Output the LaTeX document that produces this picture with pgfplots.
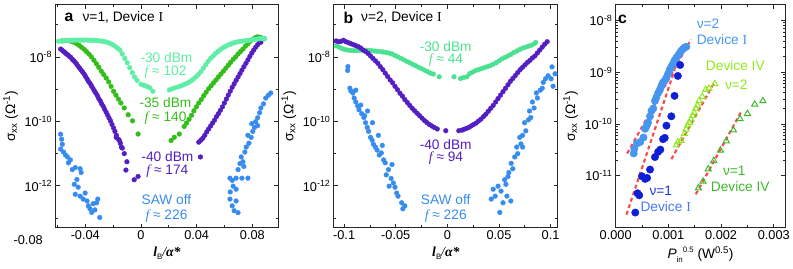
\documentclass[border=0pt]{standalone}
\usepackage{pgfplots}
\pgfplotsset{compat=1.18}
\usepackage{fontspec}
\setmainfont{Liberation Sans}
\newfontfamily\serif{Liberation Serif}
\definecolor{mintA}{RGB}{95,238,165}
\definecolor{mintB}{RGB}{75,225,145}
\definecolor{grnA}{RGB}{50,190,25}
\definecolor{purp}{RGB}{85,30,195}
\definecolor{sawblue}{RGB}{55,140,240}
\definecolor{cblue}{RGB}{70,150,240}
\definecolor{cdark}{RGB}{15,30,215}
\definecolor{cdevI}{RGB}{75,120,240}
\definecolor{lime}{RGB}{140,235,30}
\definecolor{cgreen}{RGB}{60,185,40}
\definecolor{cred}{RGB}{250,75,75}
\newcommand{\fs}{\fontsize{13}{15}\selectfont}
\newcommand{\fa}{\fontsize{14}{16}\selectfont}
\newcommand{\ff}{{\serif\itshape f}}
\pgfplotsset{
  every axis/.append style={
    scale only axis, ymode=log, tick align=inside, scaled x ticks=false,
    axis line style={line width=1pt, black!85},
    every tick/.style={black!85, line width=0.8pt},
    major tick length=4pt, minor tick length=2.5pt,
    tick label style={font=\fs},
    label style={font=\fa},
  },
  dotA/.style={only marks, mark=*, mark size=2.4pt},
}
\begin{document}
\begin{tikzpicture}
\path (0pt,0pt) rectangle (793pt,274pt);
% ---------------- panel a
\begin{axis}[at={(44pt,42pt)}, anchor=south west, width=227pt, height=227pt,
  xmin=-0.0613, xmax=0.0986, ymin=5.1e-14, ymax=4.1e-7,
  xtick={-0.04,0,0.04,0.08}, xticklabels={-0.04,0,0.04,0.08},
  minor xtick={-0.06,-0.02,0.02,0.06},
  ytick={1e-12,1e-10,1e-8}, yticklabels={10\textsuperscript{-12},10\textsuperscript{-10},10\textsuperscript{-8}},
  minor ytick={1e-13,1e-11,1e-9,1e-7},
  ylabel={σ\textsubscript{xx} (Ω\textsuperscript{-1})},
  xlabel={{\serif\bfseries\itshape l}\raisebox{-0.4ex}{\fontsize{8}{9}\selectfont B}{\serif\itshape /}{\serif\bfseries\itshape α*}},
]
\addplot[dotA, color=sawblue] coordinates {
(-0.0577,4.0e-11) (-0.0570,2.8e-11) (-0.0565,1.95e-11) (-0.0577,1.38e-11) (-0.0556,1.12e-11) (-0.0542,9.1e-12) (-0.0528,7.9e-12) (-0.0507,6.4e-12) (-0.0521,5.2e-12) (-0.0493,3.2e-12) (-0.0472,3.7e-12) (-0.0437,3.4e-12) (-0.0430,2.6e-12) (-0.0460,1.58e-12) (-0.0479,1.12e-12) (-0.0451,9.1e-13) (-0.0472,5.5e-13) (-0.0437,4.8e-13) (-0.0401,6.0e-13) (-0.0415,3.9e-13) (-0.0378,2.4e-13) (-0.0366,1.95e-13) (-0.0343,2.8e-13) (-0.0319,3.0e-13) (-0.0354,1.5e-13) (-0.0331,1.8e-13) (-0.0310,3.9e-13) (-0.0296,1.05e-13) (-0.0387,3.4e-13)
(0.0639,3.9e-13) (0.0655,2.4e-13) (0.0669,1.7e-13) (0.0683,3.4e-13) (0.0697,1.48e-13) (0.0641,6.5e-13) (0.0662,9.8e-13) (0.0683,7.9e-13) (0.0655,1.48e-12) (0.0639,1.74e-12) (0.0683,1.74e-12) (0.0725,1.74e-12) (0.0768,1.74e-12) (0.0697,3.2e-12) (0.0711,4.9e-12) (0.0732,5.6e-12) (0.0720,7.9e-12) (0.0746,1.12e-11) (0.0756,1.6e-11) (0.0775,2.1e-11) (0.0791,3.2e-11) (0.0768,3.7e-11) (0.0803,4.9e-11) (0.0815,6.5e-11) (0.0796,8.5e-11) (0.0824,9.8e-11) (0.0838,1.3e-10) (0.0852,1.86e-10) (0.0861,2.6e-10) (0.0880,3.5e-10) (0.0896,5.3e-10) (0.0915,6.5e-10) (0.0932,7.6e-10) (0.0838,7.4e-11) (0.0739,4.0e-12)
};
\addplot[dotA, color=purp] coordinates {
(-0.0577,1.75e-8) (-0.0567,1.63e-8) (-0.0556,1.47e-8) (-0.0546,1.37e-8) (-0.0535,1.23e-8) (-0.0525,1.15e-8) (-0.0514,1.03e-8) (-0.0504,9.66e-9) (-0.0493,8.4e-9) (-0.0482,7.55e-9) (-0.0472,6.8e-9) (-0.0461,5.9e-9) (-0.0451,5.1e-9) (-0.0440,4.47e-9) (-0.0430,3.9e-9) (-0.0419,3.38e-9) (-0.0408,2.94e-9) (-0.0398,2.47e-9) (-0.0387,2.07e-9) (-0.0377,1.74e-9) (-0.0366,1.51e-9) (-0.0356,1.27e-9) (-0.0345,1.06e-9) (-0.0335,8.9e-10) (-0.0324,7.5e-10) (-0.0313,6.3e-10) (-0.0303,5.1e-10) (-0.0292,4.29e-10) (-0.0282,3.48e-10) (-0.0271,2.92e-10) (-0.0261,2.37e-10) (-0.0250,1.92e-10) (-0.0239,1.55e-10) (-0.0229,1.26e-10) (-0.0218,1.02e-10) (-0.0208,8.0e-11) (-0.0197,6.25e-11) (-0.0187,4.9e-11) (-0.0176,3.7e-11) (-0.0178,3.2e-11) (-0.0162,2.8e-11) (-0.0155,2.55e-11) (-0.0148,2.11e-11) (-0.0141,1.6e-11) (-0.0134,1.49e-11) (-0.0120,1.0e-11) (-0.0101,5.6e-12) (-0.0108,3.1e-12) (-0.0049,1.55e-12) (-0.0021,1.96e-12)
(0.0427,7.9e-12) (0.0415,2.27e-11) (0.0430,2.61e-11) (0.0444,3.0e-11) (0.0458,3.7e-11) (0.0472,4.73e-11) (0.0486,5.83e-11) (0.0500,7.2e-11) (0.0514,8.9e-11) (0.0528,1.09e-10) (0.0542,1.40e-10) (0.0556,1.73e-10) (0.0570,2.2e-10) (0.0585,2.82e-10) (0.0599,3.72e-10) (0.0613,4.93e-10) (0.0627,6.53e-10) (0.0641,8.63e-10) (0.0655,1.14e-9) (0.0669,1.46e-9) (0.0683,1.87e-9) (0.0697,2.38e-9) (0.0711,3.04e-9) (0.0725,3.89e-9) (0.0739,4.97e-9) (0.0754,6.34e-9) (0.0768,8.1e-9) (0.0782,1.04e-8) (0.0796,1.32e-8) (0.0810,1.63e-8) (0.0824,2.01e-8) (0.0838,2.40e-8) (0.0852,2.76e-8) (0.0861,2.86e-8)
};
\addplot[dotA, color=grnA] coordinates {
(-0.0565,3.13e-8) (-0.0549,3.22e-8) (-0.0532,3.22e-8) (-0.0514,3.15e-8) (-0.0496,3.02e-8) (-0.0479,2.82e-8) (-0.0461,2.57e-8) (-0.0444,2.28e-8) (-0.0426,1.99e-8) (-0.0408,1.71e-8) (-0.0391,1.45e-8) (-0.0373,1.22e-8) (-0.0356,1.0e-8) (-0.0338,7.83e-9) (-0.0320,6.12e-9) (-0.0303,4.8e-9) (-0.0285,3.62e-9) (-0.0268,2.84e-9) (-0.0250,2.22e-9) (-0.0232,1.68e-9) (-0.0215,1.22e-9) (-0.0197,8.63e-10) (-0.0180,6.53e-10) (-0.0162,4.93e-10) (-0.0144,3.72e-10) (-0.0120,2.62e-10) (-0.0092,1.61e-10) (-0.0061,1.04e-10) (-0.0021,4.06e-11)
(0.0216,2.56e-11) (0.0239,3.22e-11) (0.0275,4.06e-11) (0.0310,6.95e-11) (0.0327,8.87e-11) (0.0345,1.16e-10) (0.0363,1.55e-10) (0.0380,2.13e-10) (0.0398,2.82e-10) (0.0415,3.72e-10) (0.0433,4.76e-10) (0.0451,6.3e-10) (0.0468,8.05e-10) (0.0486,1.03e-9) (0.0504,1.27e-9) (0.0521,1.57e-9) (0.0539,1.93e-9) (0.0556,2.38e-9) (0.0574,2.94e-9) (0.0592,3.62e-9) (0.0609,4.47e-9) (0.0627,5.52e-9) (0.0644,6.81e-9) (0.0662,8.4e-9) (0.0680,1.0e-8) (0.0697,1.23e-8) (0.0715,1.47e-8) (0.0732,1.75e-8) (0.0750,2.16e-8) (0.0768,2.57e-8) (0.0785,3.06e-8) (0.0803,3.52e-8) (0.0820,3.92e-8) (0.0838,4.2e-8) (0.0856,4.06e-8) (0.0873,3.78e-8) (0.0885,3.65e-8)
};
\addplot[dotA, color=mintA] coordinates {
(-0.0592,3.06e-8) (-0.0574,3.13e-8) (-0.0556,3.18e-8) (-0.0539,3.22e-8) (-0.0521,3.24e-8) (-0.0504,3.29e-8) (-0.0486,3.29e-8) (-0.0468,3.31e-8) (-0.0451,3.33e-8) (-0.0433,3.33e-8) (-0.0415,3.33e-8) (-0.0398,3.33e-8) (-0.0380,3.31e-8) (-0.0363,3.29e-8) (-0.0345,3.29e-8) (-0.0327,3.24e-8) (-0.0310,3.2e-8) (-0.0292,3.13e-8) (-0.0275,3.06e-8) (-0.0257,2.96e-8) (-0.0239,2.82e-8) (-0.0222,2.63e-8) (-0.0204,2.40e-8) (-0.0187,2.16e-8) (-0.0169,1.88e-8) (-0.0151,1.63e-8) (-0.0134,1.23e-8) (-0.0116,9.0e-9) (-0.0099,6.58e-9) (-0.0081,4.63e-9) (-0.0063,3.27e-9) (-0.0046,2.38e-9) (-0.0028,1.87e-9) (0.0,1.41e-9) (0.0021,1.32e-9) (0.0042,1.22e-9) (0.0063,1.10e-9) (0.0085,8.63e-10)
(0.0204,9.46e-10) (0.0225,1.03e-9) (0.0246,1.10e-9) (0.0268,1.18e-9) (0.0289,1.27e-9) (0.0306,1.36e-9) (0.0324,1.48e-9) (0.0342,1.62e-9) (0.0359,1.80e-9) (0.0377,2.07e-9) (0.0394,2.38e-9) (0.0412,2.84e-9) (0.0430,3.5e-9) (0.0447,4.47e-9) (0.0465,5.71e-9) (0.0482,7.3e-9) (0.0500,9.0e-9) (0.0518,1.07e-8) (0.0535,1.28e-8) (0.0553,1.47e-8) (0.0570,1.69e-8) (0.0588,1.91e-8) (0.0606,2.11e-8) (0.0623,2.32e-8) (0.0641,2.48e-8) (0.0658,2.67e-8) (0.0676,2.8e-8) (0.0694,2.92e-8) (0.0711,3.02e-8) (0.0729,3.1e-8) (0.0746,3.18e-8) (0.0764,3.24e-8) (0.0782,3.29e-8) (0.0799,3.38e-8) (0.0817,3.48e-8) (0.0835,3.57e-8) (0.0852,3.65e-8) (0.0870,3.70e-8) (0.0887,3.78e-8)
};
\end{axis}
% ---------------- panel b
\begin{axis}[at={(327.7pt,42pt)}, anchor=south west, width=228.3pt, height=227pt,
  xmin=-0.1099, xmax=0.107, ymin=5.1e-14, ymax=4.1e-7,
  xtick={-0.1,-0.05,0,0.05,0.1}, xticklabels={-0.1,-0.05,0,0.05,0.1},
  minor xtick={-0.075,-0.025,0.025,0.075},
  ytick={1e-12,1e-10,1e-8}, yticklabels={10\textsuperscript{-12},10\textsuperscript{-10},10\textsuperscript{-8}},
  minor ytick={1e-13,1e-11,1e-9,1e-7},
  ylabel={σ\textsubscript{xx} (Ω\textsuperscript{-1})},
  xlabel={{\serif\bfseries\itshape l}\raisebox{-0.4ex}{\fontsize{8}{9}\selectfont B}{\serif\itshape /}{\serif\bfseries\itshape α*}},
]
\addplot[dotA, color=sawblue] coordinates {
(-0.0966,3.8e-9) (-0.0963,5.0e-9) (-0.0944,1.07e-9) (-0.0934,8.7e-10) (-0.0915,7.6e-10) (-0.0903,5.3e-10) (-0.0887,4.0e-10) (-0.0868,3.0e-10) (-0.0856,2.3e-10) (-0.0839,3.2e-10) (-0.0830,1.74e-10) (-0.0808,1.32e-10) (-0.0792,9.1e-11) (-0.0776,6.5e-11) (-0.0801,1.5e-10) (-0.0763,4.9e-11) (-0.0744,3.2e-11) (-0.0728,2.6e-11) (-0.0716,1.95e-11) (-0.0697,1.6e-11) (-0.0681,1.29e-11) (-0.0659,9.1e-12) (-0.0640,1.05e-11) (-0.0617,6.4e-12) (-0.0602,5.2e-12) (-0.0570,3.2e-12) (-0.0592,2.2e-12) (-0.0545,1.7e-12) (-0.0523,1.23e-12) (-0.0507,9.1e-13) (-0.0491,6.0e-13) (-0.0478,4.8e-13) (-0.0443,3.0e-13) (-0.0412,2.4e-13) (-0.0431,1.95e-13) (-0.0668,3.7e-11) (-0.0630,1.8e-11) (-0.0725,9.1e-11) (-0.0773,2.1e-10) (-0.0536,4.6e-12) (-0.0564,9.8e-13) (-0.0887,9.3e-10)
(0.0425,3.9e-13) (0.0463,4.8e-13) (0.0508,1.5e-13) (0.0539,3.0e-13) (0.0577,4.8e-13) (0.0615,3.4e-13) (0.0491,9.8e-13) (0.0520,6.9e-13) (0.0555,1.55e-12) (0.0567,1.12e-12) (0.0587,1.95e-12) (0.0618,5.0e-12) (0.0634,3.4e-12) (0.0653,7.9e-12) (0.0682,1.0e-11) (0.0672,1.6e-11) (0.0713,2.0e-11) (0.0701,3.2e-11) (0.0729,3.7e-11) (0.0760,5.1e-11) (0.0748,9.1e-11) (0.0786,1.12e-10) (0.0808,1.32e-10) (0.0796,2.1e-10) (0.0840,2.6e-10) (0.0824,4.0e-10) (0.0872,5.3e-10) (0.0862,7.6e-10) (0.0900,9.3e-10) (0.0919,1.07e-9) (0.0929,1.62e-9) (0.0951,2.1e-9) (0.0976,2.6e-9) (0.1014,4.9e-9) (0.1005,2.1e-9) (0.1024,1.23e-9) (0.1043,3.0e-9) (0.0444,7.9e-13) (0.0596,2.6e-12) (0.0729,1.6e-11)
};
\addplot[dotA, color=mintB] coordinates {
(-0.1077,2.21e-8) (-0.1049,2.01e-8) (-0.1020,1.81e-8) (-0.0992,1.69e-8) (-0.0963,1.63e-8) (-0.0934,1.58e-8) (-0.0906,1.56e-8) (-0.0877,1.58e-8) (-0.0849,1.6e-8) (-0.0820,1.63e-8) (-0.0792,1.63e-8) (-0.0763,1.6e-8) (-0.0735,1.56e-8) (-0.0706,1.52e-8) (-0.0678,1.49e-8) (-0.0649,1.46e-8) (-0.0621,1.42e-8) (-0.0592,1.37e-8) (-0.0564,1.31e-8) (-0.0535,1.23e-8) (-0.0507,1.11e-8) (-0.0478,1.0e-8) (-0.0450,9.0e-9) (-0.0421,8.1e-9) (-0.0393,7.3e-9) (-0.0364,6.58e-9) (-0.0336,5.92e-9) (-0.0307,5.32e-9) (-0.0279,4.8e-9) (-0.0250,4.32e-9) (-0.0221,3.89e-9) (-0.0193,3.5e-9) (-0.0164,3.15e-9) (-0.0136,2.94e-9) (-0.0079,2.42e-9)
(0.0064,2.42e-9) (0.0127,2.14e-9) (0.0159,2.3e-9) (0.0190,2.42e-9) (0.0216,3.04e-9) (0.0244,3.38e-9) (0.0273,3.75e-9) (0.0301,4.03e-9) (0.0330,4.32e-9) (0.0358,4.63e-9) (0.0387,4.97e-9) (0.0415,5.32e-9) (0.0444,5.92e-9) (0.0472,6.58e-9) (0.0501,7.55e-9) (0.0529,8.69e-9) (0.0558,9.66e-9) (0.0586,1.07e-8) (0.0615,1.19e-8) (0.0643,1.37e-8) (0.0672,1.52e-8) (0.0700,1.69e-8) (0.0729,1.88e-8) (0.0758,2.01e-8) (0.0786,2.16e-8) (0.0815,2.32e-8) (0.0843,2.57e-8) (0.0856,2.8e-8)
};
\addplot[dotA, color=purp] coordinates {
(-0.1077,3.13e-8) (-0.1053,2.96e-8) (-0.1029,3.06e-8) (-0.1006,3.29e-8) (-0.0982,2.96e-8) (-0.0958,2.76e-8) (-0.0934,2.57e-8) (-0.0911,2.40e-8) (-0.0887,2.24e-8) (-0.0863,2.08e-8) (-0.0839,1.88e-8) (-0.0816,1.63e-8) (-0.0792,1.47e-8) (-0.0768,1.28e-8) (-0.0744,1.07e-8) (-0.0721,9.0e-9) (-0.0697,7.55e-9) (-0.0673,6.34e-9) (-0.0649,4.97e-9) (-0.0625,4.03e-9) (-0.0602,3.15e-9) (-0.0578,2.47e-9) (-0.0554,1.93e-9) (-0.0530,1.57e-9) (-0.0507,1.22e-9) (-0.0483,9.6e-10) (-0.0459,7.5e-10) (-0.0435,6.08e-10) (-0.0412,4.76e-10) (-0.0388,3.86e-10) (-0.0364,3.13e-10) (-0.0340,2.54e-10) (-0.0317,2.13e-10) (-0.0293,1.79e-10) (-0.0269,1.5e-10) (-0.0245,1.26e-10) (-0.0221,1.06e-10) (-0.0198,9.2e-11) (-0.0174,8.0e-11) (-0.0150,7.2e-11) (-0.0126,6.49e-11) (-0.0098,5.83e-11) (-0.0015,5.14e-11)
(0.0111,5.14e-11) (0.0143,5.36e-11) (0.0159,5.64e-11) (0.0183,6.04e-11) (0.0206,6.49e-11) (0.0230,7.2e-11) (0.0254,8.0e-11) (0.0278,8.87e-11) (0.0301,1.02e-10) (0.0325,1.17e-10) (0.0349,1.40e-10) (0.0373,1.67e-10) (0.0396,2.06e-10) (0.0420,2.54e-10) (0.0444,3.13e-10) (0.0468,4.0e-10) (0.0491,5.1e-10) (0.0515,6.53e-10) (0.0539,8.34e-10) (0.0563,1.06e-9) (0.0587,1.36e-9) (0.0610,1.74e-9) (0.0634,2.14e-9) (0.0658,2.64e-9) (0.0682,3.27e-9) (0.0705,4.03e-9) (0.0729,4.8e-9) (0.0753,5.71e-9) (0.0777,6.81e-9) (0.0800,7.83e-9) (0.0824,9.33e-9) (0.0848,1.07e-8) (0.0872,1.32e-8) (0.0895,1.63e-8) (0.0919,2.01e-8) (0.0943,2.48e-8) (0.0967,2.96e-8)
};
\end{axis}
% ---------------- panel c
\begin{axis}[at={(615pt,42pt)}, anchor=south west, width=173pt, height=227pt,
  xmin=0, xmax=0.00322, ymin=1e-12, ymax=2e-8,
  xtick={0,0.001,0.002,0.003}, xticklabels={0.000,0.001,0.002,0.003},
  minor xtick={0.0005,0.0015,0.0025},
  ytick={1e-11,1e-10,1e-9,1e-8}, yticklabels={10\textsuperscript{-11},10\textsuperscript{-10},10\textsuperscript{-9},10\textsuperscript{-8}},
  ylabel={σ\textsubscript{xx} (Ω\textsuperscript{-1})},
  xlabel={{\itshape P}\raisebox{-0.5ex}{\fontsize{8}{9}\selectfont in}\raisebox{0.9ex}{\fontsize{8}{9}\selectfont 0.5} (W\textsuperscript{0.5})},
]
\addplot[cred, line width=2.2pt, dash pattern=on 4pt off 3pt] coordinates {(0.000218,2.7e-11) (0.001428,4.3e-9)};
\addplot[cred, line width=2.2pt, dash pattern=on 4pt off 3pt] coordinates {(0.000205,1.78e-12) (0.001117,1.1e-9)};
\addplot[cred, line width=2.2pt, dash pattern=on 4pt off 3pt] coordinates {(0.001056,2.1e-11) (0.001862,6.1e-10)};
\addplot[cred, line width=2.2pt, dash pattern=on 4pt off 3pt] coordinates {(0.001521,4.4e-12) (0.002389,1.78e-10)};
\addplot[only marks, mark=*, mark size=3.8pt, color=cblue] coordinates {
(0.000341,2.7e-11) (0.000354,3.3e-11) (0.000404,4.2e-11) (0.000466,4.5e-11) (0.000527,5.5e-11) (0.000559,8.1e-11) (0.000590,9.3e-11) (0.000615,1.07e-10) (0.000652,1.41e-10) (0.000680,1.8e-10) (0.000713,2.0e-10) (0.000745,2.8e-10) (0.000773,3.3e-10) (0.000806,4.0e-10) (0.000838,4.6e-10) (0.000866,5.4e-10) (0.000894,6.3e-10) (0.000931,6.9e-10) (0.000963,7.9e-10) (0.000993,9.3e-10) (0.001024,1.12e-9) (0.001056,1.29e-9) (0.001086,1.45e-9) (0.001117,1.7e-9) (0.001149,1.9e-9) (0.001182,2.1e-9) (0.001210,2.3e-9) (0.001242,2.6e-9) (0.001276,2.8e-9) (0.001304,3.0e-9) (0.001341,3.1e-9)
};
\addplot[only marks, mark=*, mark size=3.8pt, color=cdark] coordinates {
(0.000372,1.95e-12) (0.000415,4.6e-12) (0.000447,4.2e-12) (0.000497,9.8e-12) (0.000559,8.7e-12) (0.000596,9.1e-12) (0.000652,1.32e-11) (0.000745,2.3e-11) (0.000806,2.9e-11) (0.000847,3.2e-11) (0.000899,5.1e-11) (0.000931,5.4e-11) (0.000963,9.3e-11) (0.001056,1.41e-10) (0.001117,3.5e-10) (0.001179,8.5e-10) (0.001223,1.38e-9)
};
\addplot[only marks, mark=triangle, mark size=3.6pt, line width=1pt, color=lime] coordinates {
(0.001149,3.9e-11) (0.001182,4.5e-11) (0.001242,4.8e-11) (0.001304,6.5e-11) (0.001335,7.9e-11) (0.001365,9.5e-11) (0.001397,1.07e-10) (0.001428,1.23e-10) (0.001458,1.45e-10) (0.001490,1.66e-10) (0.001521,2.0e-10) (0.001551,2.3e-10) (0.001583,2.8e-10) (0.001644,3.4e-10) (0.001708,4.6e-10) (0.001769,4.9e-10) (0.001881,6.0e-10)
};
\addplot[only marks, mark=triangle, mark size=3.6pt, line width=1pt, color=cgreen] coordinates {
(0.001570,5.8e-12) (0.001657,7.8e-12) (0.001756,1.35e-11) (0.001862,1.95e-11) (0.001987,3.1e-11) (0.002099,4.7e-11) (0.002235,7.6e-11) (0.002359,1.26e-10) (0.002501,1.58e-10) (0.002639,2.4e-10) (0.002793,2.8e-10)
};
\end{axis}
% ---------------- annotations
\node[font=\fs] at (16pt,29pt) {-0.08};
\node[font=\fontsize{16}{18}\selectfont\bfseries] at (57.5pt,256pt) {a};
\node[font=\fa, anchor=west] at (68pt,256pt) {ν=1, Device {\serif I}};
\begin{scope}[every node/.style={font=\fa, inner sep=0.5pt}]
\node[mintA] at (157pt,215pt) {-30 dBm};
\node[mintA] at (156pt,200.5pt) {\ff{} ≈ 102};
\node[grnA] at (156pt,169pt) {-35 dBm};
\node[grnA] at (156pt,153.5pt) {\ff{} ≈ 140};
\node[purp] at (158pt,114pt) {-40 dBm};
\node[purp] at (158pt,99.5pt) {\ff{} ≈ 174};
\node[sawblue] at (157pt,70pt) {SAW off};
\node[sawblue] at (157pt,54pt) {\ff{} ≈ 226};
\node[mintB] at (441.7pt,226.5pt) {-30 dBm};
\node[mintB] at (442pt,212.5pt) {\ff{} ≈ 44};
\node[purp] at (441.7pt,126.5pt) {-40 dBm};
\node[purp] at (442pt,112.5pt) {\ff{} ≈ 94};
\node[sawblue] at (441.7pt,70pt) {SAW off};
\node[sawblue] at (441.7pt,54pt) {\ff{} ≈ 226};
\node[cblue, anchor=west] at (697pt,250pt) {ν=2};
\node[cblue, anchor=west] at (697pt,234pt) {Device {\serif I}};
\node[lime] at (737pt,207pt) {Device IV};
\node[lime] at (738pt,188pt) {ν=2};
\node[cgreen] at (736pt,100pt) {ν=1};
\node[cgreen] at (742pt,84pt) {Device IV};
\node[cdark!80!cblue] at (661pt,79pt) {ν=1};
\node[cdevI] at (666pt,63pt) {Device {\serif I}};
\end{scope}
\node[font=\fontsize{16}{18}\selectfont\bfseries] at (342.5pt,256pt) {b};
\node[font=\fa, anchor=west] at (352pt,256pt) {ν=2, Device {\serif I}};
\node[font=\fontsize{16}{18}\selectfont\bfseries] at (622pt,254pt) {c};
\end{tikzpicture}
\end{document}
